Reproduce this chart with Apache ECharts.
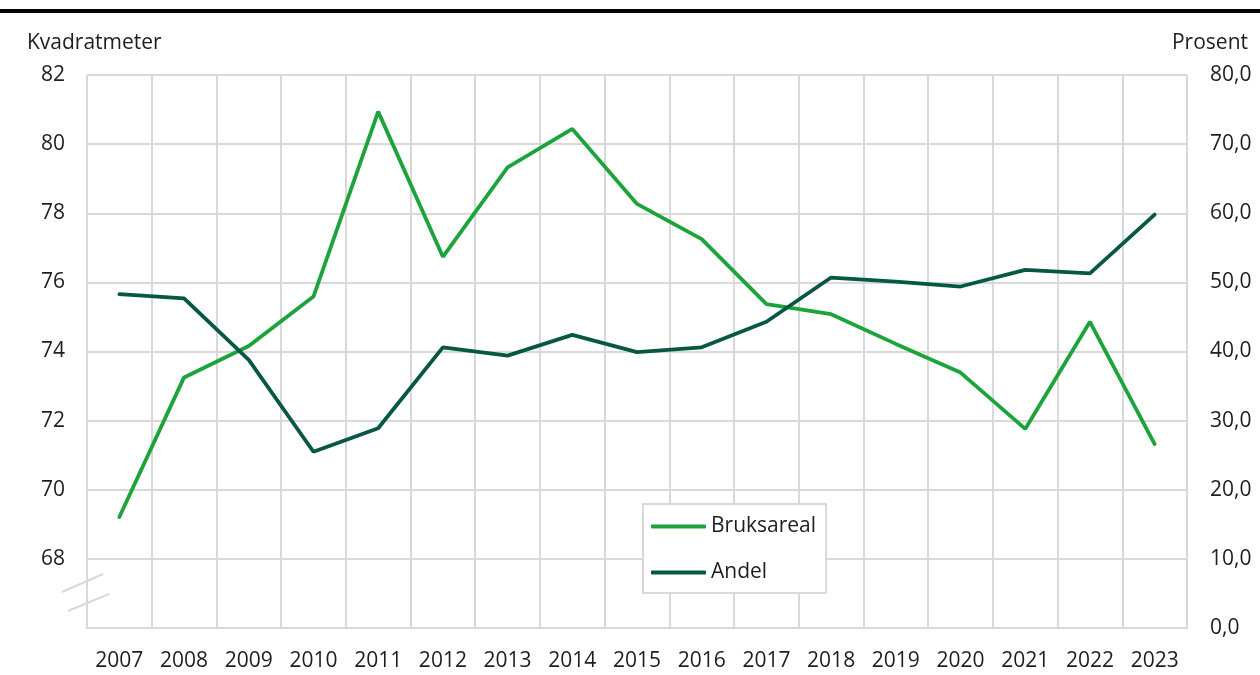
<!DOCTYPE html>
<html lang="no">
<head>
    <meta charset="UTF-8">
    <title>Bruksareal og andel</title>
    <script src="https://cdn.jsdelivr.net/npm/echarts@6/dist/echarts.min.js"></script>
    <style>
        body { margin: 0; background: #fff; }
        #chart { width: 1260px; height: 675px; }
    </style>
</head>
<body>
    <div id="chart"></div>
    <script>
        // data
        const years = ['2007', '2008', '2009', '2010', '2011', '2012', '2013', '2014', '2015',
            '2016', '2017', '2018', '2019', '2020', '2021', '2022', '2023'];
        const bruksareal = [69.21, 73.25, 74.16, 75.59, 80.94, 76.74, 79.33, 80.44, 78.27,
            77.25, 75.37, 75.08, 74.22, 73.39, 71.76, 74.86, 71.32];
        const andel = [48.3, 47.7, 38.8, 25.5, 28.9, 40.6, 39.4, 42.4, 39.9,
            40.6, 44.3, 50.7, 50.1, 49.4, 51.8, 51.3, 59.8];

        const txt = '#1e1e1e';
        const grey = '#d9d9d9';
        const font = '"Open Sans", sans-serif';
        const fs = 21;

        const chart = echarts.init(document.getElementById('chart'));

        chart.setOption({
            animation: false,
            textStyle: { fontFamily: font, color: txt },
            grid: { left: 87, right: 73, top: 75, bottom: 47 },
            legend: {
                left: 643,
                top: 504,
                orient: 'vertical',
                backgroundColor: '#fff',
                borderColor: grey,
                borderWidth: 2,
                borderRadius: 0,
                padding: [12, 10, 10, 8],
                itemWidth: 55,
                itemHeight: 4,
                itemGap: 25,
                icon: 'roundRect',
                textStyle: { fontSize: fs, color: txt, fontFamily: font },
                data: ['Bruksareal', 'Andel']
            },
            xAxis: {
                type: 'category',
                data: years,
                boundaryGap: true,
                axisLine: { lineStyle: { color: grey, width: 2 } },
                axisTick: { show: false },
                axisLabel: { fontSize: fs, color: txt, margin: 23, interval: 0 },
                splitLine: { show: true, interval: 0, lineStyle: { color: grey, width: 2 } }
            },
            yAxis: [
                {
                    type: 'value',
                    min: 66,
                    max: 82,
                    interval: 2,
                    axisLine: { show: false },
                    axisTick: { show: false },
                    axisLabel: {
                        fontSize: fs, color: txt, margin: 22,
                        formatter: v => (v === 66 ? '' : String(v))
                    },
                    splitLine: { lineStyle: { color: grey, width: 2 } }
                },
                {
                    type: 'value',
                    min: 0,
                    max: 80,
                    interval: 10,
                    axisLine: { show: false },
                    axisTick: { show: false },
                    axisLabel: {
                        fontSize: fs, color: txt, margin: 23,
                        formatter: v => v.toFixed(1).replace('.', ',')
                    },
                    splitLine: { show: false }
                }
            ],
            graphic: [
                // rule under the (cropped) heading
                { type: 'rect', left: 0, top: 9, shape: { width: 1260, height: 4 }, style: { fill: '#000' } },
                { type: 'text', left: 27, top: 33, style: { text: 'Kvadratmeter', font: fs + 'px ' + font, fill: txt } },
                { type: 'text', right: 12, top: 33, style: { text: 'Prosent', font: fs + 'px ' + font, fill: txt } },
                // axis break marks
                { type: 'line', shape: { x1: 62, y1: 592, x2: 103, y2: 574 }, style: { stroke: grey, lineWidth: 2 } },
                { type: 'line', shape: { x1: 68, y1: 611, x2: 109, y2: 594 }, style: { stroke: grey, lineWidth: 2 } }
            ],
            series: [
                {
                    name: 'Bruksareal',
                    type: 'line',
                    yAxisIndex: 0,
                    data: bruksareal,
                    symbol: 'none',
                    color: '#1da33c',
                    lineStyle: { width: 3.8, color: '#1da33c', cap: 'round' },
                    z: 3
                },
                {
                    name: 'Andel',
                    type: 'line',
                    yAxisIndex: 1,
                    data: andel,
                    symbol: 'none',
                    color: '#075745',
                    lineStyle: { width: 3.8, color: '#075745', cap: 'round' },
                    z: 4
                }
            ]
        });
    </script>
</body>
</html>
